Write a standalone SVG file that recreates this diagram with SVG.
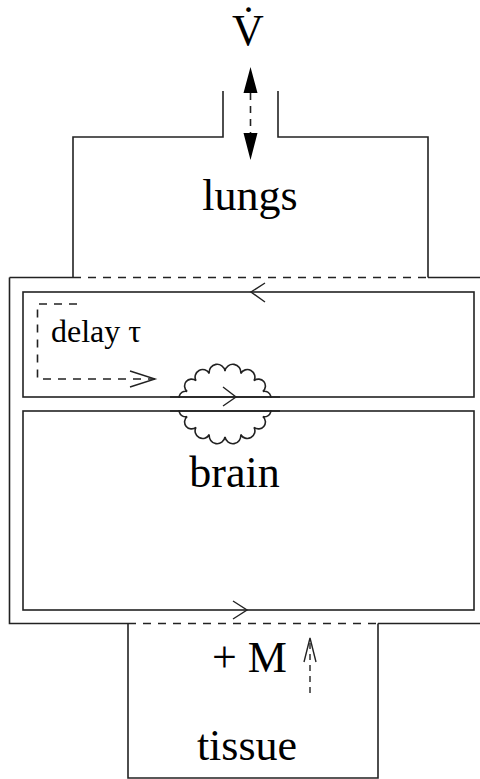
<svg xmlns="http://www.w3.org/2000/svg" width="480" height="779" viewBox="0 0 480 779">
<style>
.ln{fill:none;stroke:#222;stroke-width:1.6}
.ds{fill:none;stroke:#222;stroke-width:1.6;stroke-dasharray:8,7}
.ar{fill:none;stroke:#222;stroke-width:1.4}
.t{font-family:"Liberation Serif","Times New Roman",serif;fill:#000}
</style>
<rect width="480" height="779" fill="#fff"/>
<g id="lungs">
<path class="ln" d="M9.5 277.5H73M428 277.5H480M73 277.5V137H223V91M278 91V137H428V277.5"/>
<text class="t" x="250" y="210" font-size="44" text-anchor="middle">lungs</text>
</g>
<g id="ventilation">
<text class="t" x="248" y="45" font-size="44" text-anchor="middle">V̇</text>
</g>
<g id="circulation">
<path class="ln" d="M9.5 277.5V623.5H128M378 623.5H480"/>
</g>
<g id="delay">
<rect class="ln" x="23" y="292" width="451" height="105"/>
<text class="t" x="51" y="342" font-size="32">delay τ</text>
</g>
<g id="brain">
<rect class="ln" x="23" y="411" width="451" height="199"/>
<text class="t" x="234.5" y="487" font-size="44" text-anchor="middle">brain</text>
</g>
<g id="cloud">
<path class="ln" d="M266 404A4 4 0 0 0 262.9 391.4A4 4 0 0 0 254 380.7A4 4 0 0 0 240.7 373.5A4 4 0 0 0 225 371A4 4 0 0 0 209.3 373.5A4 4 0 0 0 196 380.7A4 4 0 0 0 187.1 391.4A4 4 0 0 0 184 404A4 4 0 0 0 187.1 416.6A4 4 0 0 0 196 427.3A4 4 0 0 0 209.3 434.5A4 4 0 0 0 225 437A4 4 0 0 0 240.7 434.5A4 4 0 0 0 254 427.3A4 4 0 0 0 262.9 416.6A4 4 0 0 0 266 404Z"/>
<rect x="170" y="398" width="110" height="12" fill="#fff"/>
<path class="ln" d="M170 397H280M170 411H280"/>
</g>
<g id="tissue">
<path class="ln" d="M128 623.5V778H378V623.5"/>
<text class="t" x="212" y="672" font-size="44">+ M</text>
<text class="t" x="247" y="760" font-size="44" text-anchor="middle">tissue</text>
</g>
<g id="connectors">
<path class="ds" d="M73 277.5H428"/>
<path class="ds" d="M128 623.5H378" stroke-dasharray="11,10"/>
<path class="ar" d="M265 283L251 292L265 302"/>
<path class="ar" d="M223 387L236 397L223 406"/>
<path class="ar" d="M233 601L247 610L233 619"/>
<path class="ds" d="M77 304H37.5V379H155"/>
<path class="ar" d="M130 371L155 379L130 387"/>
<path class="ln" d="M250.5 93V133" stroke-dasharray="7,6"/>
<path d="M250.5 67L243.5 93H257.5Z M250.5 160L243.5 133H257.5Z" fill="#000"/>
<path class="ar" d="M310 693V640" stroke-dasharray="6,5"/>
<path class="ar" d="M304 662L310 638L316 662"/>
</g>
</svg>
